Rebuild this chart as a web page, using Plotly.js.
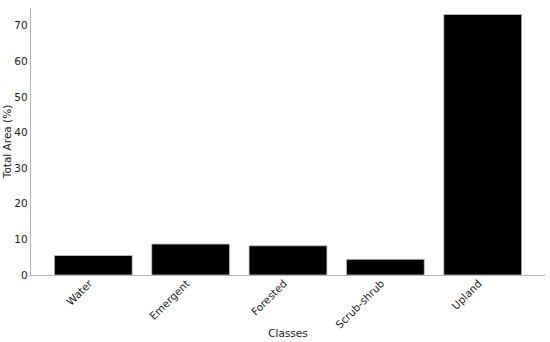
<!DOCTYPE html>
<html>
<head>
<meta charset="utf-8">
<script src="https://cdn.plot.ly/plotly-3.0.1.min.js"></script>
<style>
  html, body { margin: 0; padding: 0; background: #fff; }
  #chart { width: 550px; height: 342px; }
</style>
</head>
<body>
<div id="chart"></div>
<script>
// land cover classes and their share of total area
const classes = ['Water', 'Emergent', 'Forested', 'Scrub-shrub', 'Upland'];
const areaPct = [5.5, 8.7, 8.2, 4.4, 73.2];
const yTicks = [0, 10, 20, 30, 40, 50, 60, 70];

const font = { family: '"DejaVu Sans", sans-serif', size: 10.5, color: '#1a1a1a' };

const traces = [{
    x: classes,
    y: areaPct,
    type: 'bar',
    marker: { color: '#000000', line: { color: '#c8c8c8', width: 0.8 } },
    hoverinfo: 'x+y'
}];

const layout = {
    font: font,
    width: 550,
    height: 342,
    margin: { t: 8, r: 5, b: 67, l: 31 },
    plot_bgcolor: '#ffffff',
    paper_bgcolor: '#ffffff',
    showlegend: false,
    bargap: 0.2,
    xaxis: {
        title: { text: 'Classes', font: font, standoff: 0 },
        type: 'category',
        range: [-0.64, 4.64],
        tickangle: -45,
        ticklabelshift: -4,
        ticklabelstandoff: -3,
        showgrid: false,
        zeroline: false,
        showline: true,
        linecolor: '#b4b4b4',
        linewidth: 1.2,
        ticks: '',
        ticklen: 0
    },
    yaxis: {
        title: { text: 'Total Area (%)', font: font, standoff: 0 },
        range: [0, 75],
        tickvals: yTicks,
        ticktext: yTicks.map(String),
        showgrid: false,
        zeroline: false,
        showline: true,
        linecolor: '#b4b4b4',
        linewidth: 1.2,
        ticks: '',
        ticklen: 0
    }
};

Plotly.newPlot('chart', traces, layout, { displayModeBar: false, staticPlot: true });
</script>
</body>
</html>
